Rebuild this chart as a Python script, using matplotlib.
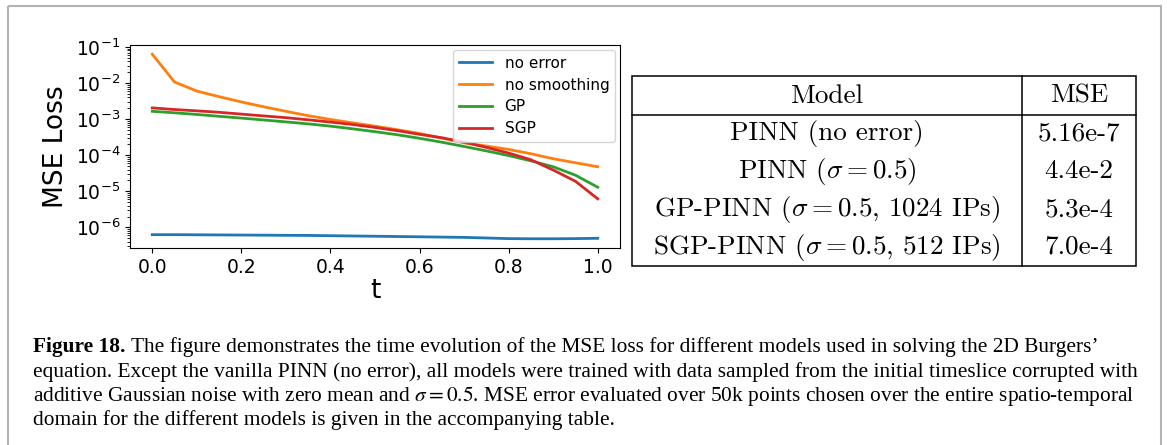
import numpy as np
import matplotlib
matplotlib.use("Agg")
import matplotlib.pyplot as plt
from matplotlib.patches import Rectangle
from matplotlib.ticker import LogLocator

# Sample times
t = [0.0, 0.05, 0.1, 0.15, 0.2, 0.25, 0.3, 0.35, 0.4, 0.45, 0.5,
     0.55, 0.6, 0.65, 0.7, 0.75, 0.8, 0.85, 0.9, 0.95, 1.0]

# MSE loss per model over time
loss_no_error = [6.3e-7, 6.3e-7, 6.25e-7, 6.2e-7, 6.15e-7, 6.1e-7, 6.05e-7, 6.0e-7, 5.9e-7, 5.8e-7, 5.7e-7,
                 5.6e-7, 5.5e-7, 5.4e-7, 5.3e-7, 5.1e-7, 4.9e-7, 4.85e-7, 4.85e-7, 4.9e-7, 5.0e-7]
loss_no_smoothing = [6.3e-2, 1.07e-2, 6.0e-3, 4.2e-3, 3.0e-3, 2.2e-3, 1.65e-3, 1.25e-3, 9.8e-4, 7.9e-4, 6.4e-4,
                     5.1e-4, 4.0e-4, 3.0e-4, 2.2e-4, 1.8e-4, 1.45e-4, 1.1e-4, 8.0e-5, 6.2e-5, 4.8e-5]
loss_gp = [1.65e-3, 1.5e-3, 1.35e-3, 1.2e-3, 1.07e-3, 9.5e-4, 8.4e-4, 7.4e-4, 6.4e-4, 5.4e-4, 4.5e-4,
           3.7e-4, 2.95e-4, 2.3e-4, 1.75e-4, 1.32e-4, 9.8e-5, 7.0e-5, 4.8e-5, 2.8e-5, 1.3e-5]
loss_sgp = [2.05e-3, 1.85e-3, 1.7e-3, 1.55e-3, 1.38e-3, 1.23e-3, 1.1e-3, 9.6e-4, 8.3e-4, 7.1e-4, 5.9e-4,
            4.8e-4, 3.8e-4, 3.05e-4, 2.3e-4, 1.65e-4, 1.15e-4, 7.5e-5, 3.9e-5, 1.9e-5, 6.2e-6]

series_labels = ['no error', 'no smoothing', 'GP', 'SGP']

# Summary table
table_header = ['Model', 'MSE']
table_models = ['PINN (no error)',
                r'PINN ($\sigma = 0.5$)',
                r'GP-PINN ($\sigma = 0.5$, 1024 IPs)',
                r'SGP-PINN ($\sigma = 0.5$, 512 IPs)']
table_mse = ['5.16e-7', '4.4e-2', '5.3e-4', '7.0e-4']

caption_head = 'Figure 18.'
caption_lines = [
    " The figure demonstrates the time evolution of the MSE loss for different models used in solving the 2D Burgers\u2019",
    "equation. Except the vanilla PINN (no error), all models were trained with data sampled from the initial timeslice corrupted with",
    r"additive Gaussian noise with zero mean and $\sigma = 0.5$. MSE error evaluated over 50k points chosen over the entire spatio-temporal",
    "domain for the different models is given in the accompanying table.",
]

W, H = 1167, 445
fig = plt.figure(figsize=(W / 100, H / 100), dpi=100)

# --- loss curves ---
ax = fig.add_axes([130 / W, (H - 248) / H, (620 - 130) / W, (248 - 45) / H])
for y, lab in zip([loss_no_error, loss_no_smoothing, loss_gp, loss_sgp], series_labels):
    ax.plot(t, y, lw=2, label=lab)
ax.set_yscale('log')
ax.yaxis.set_major_locator(LogLocator(base=10, numticks=20))
ax.yaxis.set_minor_locator(LogLocator(base=10, subs=np.arange(2, 10), numticks=20))
ax.set_xticks([0.0, 0.2, 0.4, 0.6, 0.8, 1.0])
ax.tick_params(labelsize=13.5)
ax.set_xlabel('t', fontsize=19, labelpad=1)
ax.set_ylabel('MSE Loss', fontsize=19, labelpad=5)
ax.legend(loc='upper right', fontsize=11, borderaxespad=0.3, handlelength=2.2, labelspacing=0.45)

# --- overlay in pixel coordinates for frame, table and caption ---
ov = fig.add_axes([0, 0, 1, 1])
ov.set_xlim(0, W)
ov.set_ylim(H, 0)
ov.axis('off')

ov.add_patch(Rectangle((8, 6), 1153, 445, fill=False, ec='#b3b3b3', lw=1.5))

# table frame
x0, x1, xm = 632, 1136, 1022
y0, y1, yh = 76, 266, 115
ov.add_patch(Rectangle((x0, y0), x1 - x0, y1 - y0, fill=False, ec='black', lw=1.1))
ov.plot([x0, x1], [yh, yh], color='black', lw=1.1)
ov.plot([xm, xm], [y0, y1], color='black', lw=1.1)

tbl_kw = dict(fontfamily='cmr10', math_fontfamily='cm', fontsize=19.5, ha='center', va='center')
ov.text((x0 + xm) / 2, 96, table_header[0], **tbl_kw)
ov.text((xm + x1) / 2, 96, table_header[1], **tbl_kw)
row_h = (y1 - yh) / len(table_models)
for i, (m, v) in enumerate(zip(table_models, table_mse)):
    yc = yh + row_h * (i + 0.5)
    ov.text((x0 + xm) / 2, yc, m, **tbl_kw)
    ov.text((xm + x1) / 2, yc, v, **tbl_kw)

# caption
cap_kw = dict(fontfamily='Liberation Serif', math_fontfamily='stix', fontsize=15.4, va='baseline', ha='left')
cx, cy, dy = 33, 352, 24.5
renderer = fig.canvas.get_renderer()
head = ov.text(cx, cy, caption_head, fontweight='bold', **cap_kw)
hw = head.get_window_extent(renderer=renderer).width
ov.text(cx + hw, cy, caption_lines[0], **cap_kw)
for i, line in enumerate(caption_lines[1:], start=1):
    ov.text(cx, cy + dy * i, line, **cap_kw)

fig.savefig('out.png', dpi=100)
